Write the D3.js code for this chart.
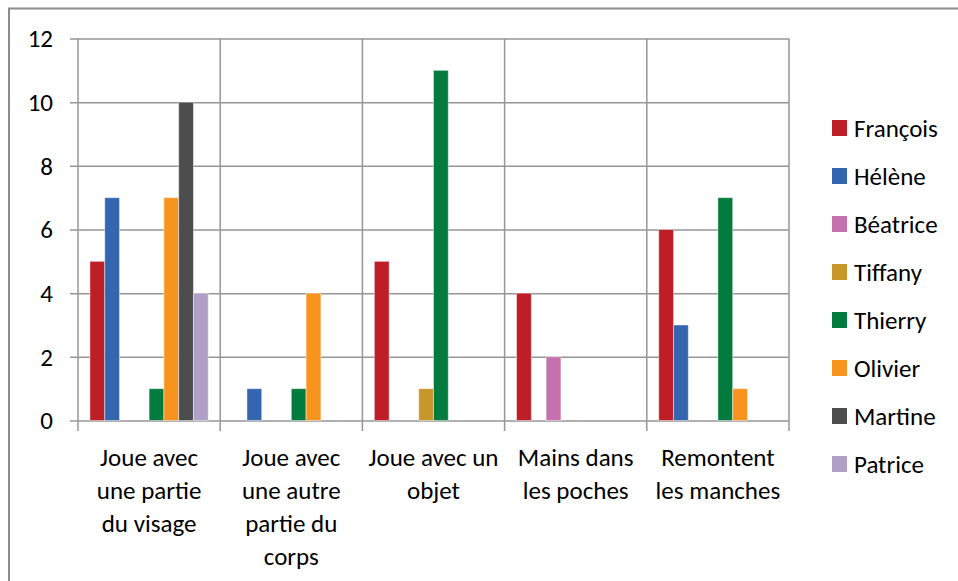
<html>
<head>
<meta charset="utf-8">
<script src="https://d3js.org/d3.v7.min.js"></script>
<style>
  body { margin: 0; background: #fff; }
  svg text { font-family: Carlito, Calibri, Lato, sans-serif; fill: #000; }
</style>
</head>
<body>
<svg class="chart" width="958" height="581"></svg>
<script>
// categories (with the line breaks of the original labels)
const categories = [
  "Joue avec|une partie|du visage",
  "Joue avec|une autre|partie du|corps",
  "Joue avec un|objet",
  "Mains dans|les poches",
  "Remontent|les manches"
];
const people = ["François", "Hélène", "Béatrice", "Tiffany", "Thierry", "Olivier", "Martine", "Patrice"];
const colors = ["#BE1E25", "#3466B0", "#C471AE", "#C8962A", "#037A3E", "#F7941D", "#4D4D4D", "#B09FC7"];

// one value per category, for each person
const francois = [5, 0, 5, 4, 6];
const helene   = [7, 1, 0, 0, 3];
const beatrice = [0, 0, 0, 2, 0];
const tiffany  = [0, 0, 1, 0, 0];
const thierry  = [1, 1, 11, 0, 7];
const olivier  = [7, 4, 0, 0, 1];
const martine  = [10, 0, 0, 0, 0];
const patrice  = [4, 0, 0, 0, 0];
const yTicks = [0, 2, 4, 6, 8, 10, 12];

const series = [francois, helene, beatrice, tiffany, thierry, olivier, martine, patrice];

const svg = d3.select(".chart");
const fs = 25;

// outer chart frame
svg.append("rect")
  .attr("x", 9).attr("y", 8.5)
  .attr("width", 980).attr("height", 600)
  .attr("fill", "none").attr("stroke", "#8c8c8c").attr("stroke-width", 2);

const x0 = d3.scaleBand().domain(categories).range([78, 789]).padding(0);
const bw = x0.bandwidth();
const gap = bw * 0.084;
const x1 = d3.scaleBand().domain(people).range([gap, bw - gap]).padding(0);
const y = d3.scaleLinear().domain([0, 12]).range([420.5, 38.5]);

const gridColor = "#969696";

// horizontal gridlines + y ticks
svg.append("g")
  .attr("transform", "translate(78,0)")
  .call(d3.axisLeft(y).tickValues(yTicks).tickSizeInner(-(789 - 78)).tickFormat(""))
  .call(g => g.select(".domain").remove())
  .call(g => g.selectAll(".tick line").attr("stroke", gridColor).attr("stroke-width", 1.5).attr("x1", -8));

// y tick labels
svg.append("g")
  .selectAll("text")
  .data(yTicks)
  .join("text")
  .attr("x", 53)
  .attr("y", d => y(d))
  .attr("dy", "0.35em")
  .attr("text-anchor", "end")
  .attr("font-size", fs)
  .text(d => d);

// vertical gridlines at category boundaries
const bounds = categories.map(c => x0(c)).concat([x0(categories[categories.length - 1]) + bw]);
svg.append("g")
  .selectAll("line")
  .data(bounds)
  .join("line")
  .attr("x1", d => d).attr("x2", d => d)
  .attr("y1", y(12)).attr("y2", 431)
  .attr("stroke", gridColor).attr("stroke-width", 1.5);

// bars
const groups = svg.append("g")
  .selectAll("g")
  .data(categories)
  .join("g")
  .attr("transform", c => `translate(${x0(c)},0)`);

groups.selectAll("rect")
  .data((c, ci) => people.map((p, pi) => ({ p, pi, v: series[pi][ci] })).filter(d => d.v > 0))
  .join("rect")
  .attr("x", d => x1(d.p))
  .attr("width", x1.bandwidth())
  .attr("y", d => y(d.v))
  .attr("height", d => y(0) - y(d.v))
  .attr("fill", d => colors[d.pi])
  .attr("stroke", "rgba(255,255,255,0.45)")
  .attr("stroke-width", 1);

// category labels
const lab = svg.append("g")
  .selectAll("text")
  .data(categories)
  .join("text")
  .attr("text-anchor", "middle")
  .attr("font-size", fs)
  .attr("x", c => x0(c) + bw / 2)
  .attr("y", 466);
lab.selectAll("tspan")
  .data(c => c.split("|").map(t => ({ t, c })))
  .join("tspan")
  .attr("x", d => x0(d.c) + bw / 2)
  .attr("dy", (d, i) => i === 0 ? 0 : 33)
  .text(d => d.t);

// legend
const leg = svg.append("g")
  .selectAll("g")
  .data(people)
  .join("g")
  .attr("transform", (p, i) => `translate(832,${128 + i * 48})`);
leg.append("rect")
  .attr("x", 0).attr("y", -8)
  .attr("width", 15).attr("height", 16)
  .attr("fill", (p, i) => colors[i]);
leg.append("text")
  .attr("x", 22).attr("y", 0)
  .attr("dy", "0.35em")
  .attr("font-size", fs)
  .text(p => p);
</script>
</body>
</html>
